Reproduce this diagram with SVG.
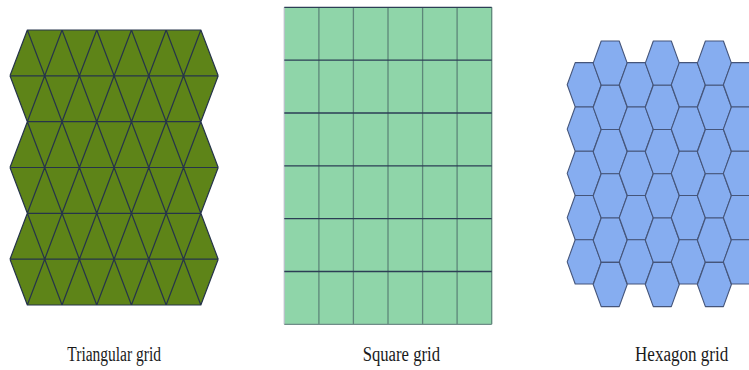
<svg xmlns="http://www.w3.org/2000/svg" xmlns:xlink="http://www.w3.org/1999/xlink" width="749" height="370" viewBox="0 0 749 370">
<style>
.tri{fill:#5e8418;stroke:none}
.triline{fill:none;stroke:#26344a;stroke-width:1.2;stroke-linejoin:round}
.sq{fill:#8fd5a9;stroke:none}
.sqh{stroke:#2c3e55;stroke-width:1.3}
.sqv{stroke:#5d8779;stroke-width:1.3}
.hex{fill:#86adf0;stroke:#45557a;stroke-width:1.1;stroke-linejoin:round}
.lbl{font-family:"Liberation Serif","Times New Roman",serif;font-size:20px;fill:#1a1a1a}
</style>
<defs>
<polygon id="h" class="hex" points="-17,0 -9,-22.13 9,-22.13 17,0 9,22.13 -9,22.13"/>
</defs>
<rect width="749" height="370" fill="#ffffff"/>
<g id="triangular-grid">
<polygon class="tri" points="27.35,30 200.85,30 218.2,75.8 200.85,121.7 218.2,167.5 200.85,213.3 218.2,259.2 200.85,305 27.35,305 10,259.2 27.35,213.3 10,167.5 27.35,121.7 10,75.8"/>
<path class="triline" d="M10,75.8 L27.35,30 L44.7,75.8 L62.05,30 L79.4,75.8 L96.75,30 L114.1,75.8 L131.45,30 L148.8,75.8 L166.15,30 L183.5,75.8 L200.85,30 L218.2,75.8
M10,75.8 L27.35,121.7 L44.7,75.8 L62.05,121.7 L79.4,75.8 L96.75,121.7 L114.1,75.8 L131.45,121.7 L148.8,75.8 L166.15,121.7 L183.5,75.8 L200.85,121.7 L218.2,75.8
M10,167.5 L27.35,121.7 L44.7,167.5 L62.05,121.7 L79.4,167.5 L96.75,121.7 L114.1,167.5 L131.45,121.7 L148.8,167.5 L166.15,121.7 L183.5,167.5 L200.85,121.7 L218.2,167.5
M10,167.5 L27.35,213.3 L44.7,167.5 L62.05,213.3 L79.4,167.5 L96.75,213.3 L114.1,167.5 L131.45,213.3 L148.8,167.5 L166.15,213.3 L183.5,167.5 L200.85,213.3 L218.2,167.5
M10,259.2 L27.35,213.3 L44.7,259.2 L62.05,213.3 L79.4,259.2 L96.75,213.3 L114.1,259.2 L131.45,213.3 L148.8,259.2 L166.15,213.3 L183.5,259.2 L200.85,213.3 L218.2,259.2
M10,259.2 L27.35,305 L44.7,259.2 L62.05,305 L79.4,259.2 L96.75,305 L114.1,259.2 L131.45,305 L148.8,259.2 L166.15,305 L183.5,259.2 L200.85,305 L218.2,259.2
M27.35,30 H200.85 M10,75.8 H218.2 M27.35,121.7 H200.85 M10,167.5 H218.2 M27.35,213.3 H200.85 M10,259.2 H218.2 M27.35,305 H200.85"/>
</g>
<g id="square-grid">
<rect class="sq" x="284.3" y="7.3" width="207.4" height="317"/>
<path class="sqv" d="M318.9,7.3 V324.3 M353.4,7.3 V324.3 M388,7.3 V324.3 M422.6,7.3 V324.3 M457.1,7.3 V324.3 M491.7,7.3 V324.3"/>
<path stroke="#b9c1c9" stroke-width="1.3" d="M284.3,7.3 V324.3"/>
<path class="sqh" d="M284.3,7.3 H491.7 M284.3,60.1 H491.7 M284.3,113 H491.7 M284.3,165.8 H491.7 M284.3,218.6 H491.7 M284.3,271.5 H491.7"/>
<path stroke="#6f8c88" stroke-width="1.3" d="M284.3,324.3 H491.7"/>
</g>
<g id="hexagon-grid">
<use xlink:href="#h" x="584.2" y="84.8"/><use xlink:href="#h" x="584.2" y="129.1"/><use xlink:href="#h" x="584.2" y="173.4"/><use xlink:href="#h" x="584.2" y="217.6"/><use xlink:href="#h" x="584.2" y="261.9"/>
<use xlink:href="#h" x="610.2" y="63.1"/><use xlink:href="#h" x="610.2" y="107.4"/><use xlink:href="#h" x="610.2" y="151.7"/><use xlink:href="#h" x="610.2" y="195.9"/><use xlink:href="#h" x="610.2" y="240.2"/><use xlink:href="#h" x="610.2" y="284.5"/>
<use xlink:href="#h" x="636.3" y="84.8"/><use xlink:href="#h" x="636.3" y="129.1"/><use xlink:href="#h" x="636.3" y="173.4"/><use xlink:href="#h" x="636.3" y="217.6"/><use xlink:href="#h" x="636.3" y="261.9"/>
<use xlink:href="#h" x="662.3" y="63.1"/><use xlink:href="#h" x="662.3" y="107.4"/><use xlink:href="#h" x="662.3" y="151.7"/><use xlink:href="#h" x="662.3" y="195.9"/><use xlink:href="#h" x="662.3" y="240.2"/><use xlink:href="#h" x="662.3" y="284.5"/>
<use xlink:href="#h" x="688.3" y="84.8"/><use xlink:href="#h" x="688.3" y="129.1"/><use xlink:href="#h" x="688.3" y="173.4"/><use xlink:href="#h" x="688.3" y="217.6"/><use xlink:href="#h" x="688.3" y="261.9"/>
<use xlink:href="#h" x="714.4" y="63.1"/><use xlink:href="#h" x="714.4" y="107.4"/><use xlink:href="#h" x="714.4" y="151.7"/><use xlink:href="#h" x="714.4" y="195.9"/><use xlink:href="#h" x="714.4" y="240.2"/><use xlink:href="#h" x="714.4" y="284.5"/>
<use xlink:href="#h" x="740.4" y="84.8"/><use xlink:href="#h" x="740.4" y="129.1"/><use xlink:href="#h" x="740.4" y="173.4"/><use xlink:href="#h" x="740.4" y="217.6"/><use xlink:href="#h" x="740.4" y="261.9"/>
</g>
<g id="labels">
<text class="lbl" x="67.3" y="361" textLength="93.7" lengthAdjust="spacingAndGlyphs">Triangular grid</text>
<text class="lbl" x="362.7" y="361" textLength="77.3" lengthAdjust="spacingAndGlyphs">Square grid</text>
<text class="lbl" x="635" y="361" textLength="93.3" lengthAdjust="spacingAndGlyphs">Hexagon grid</text>
</g>
<g id="connectors"/>
</svg>
